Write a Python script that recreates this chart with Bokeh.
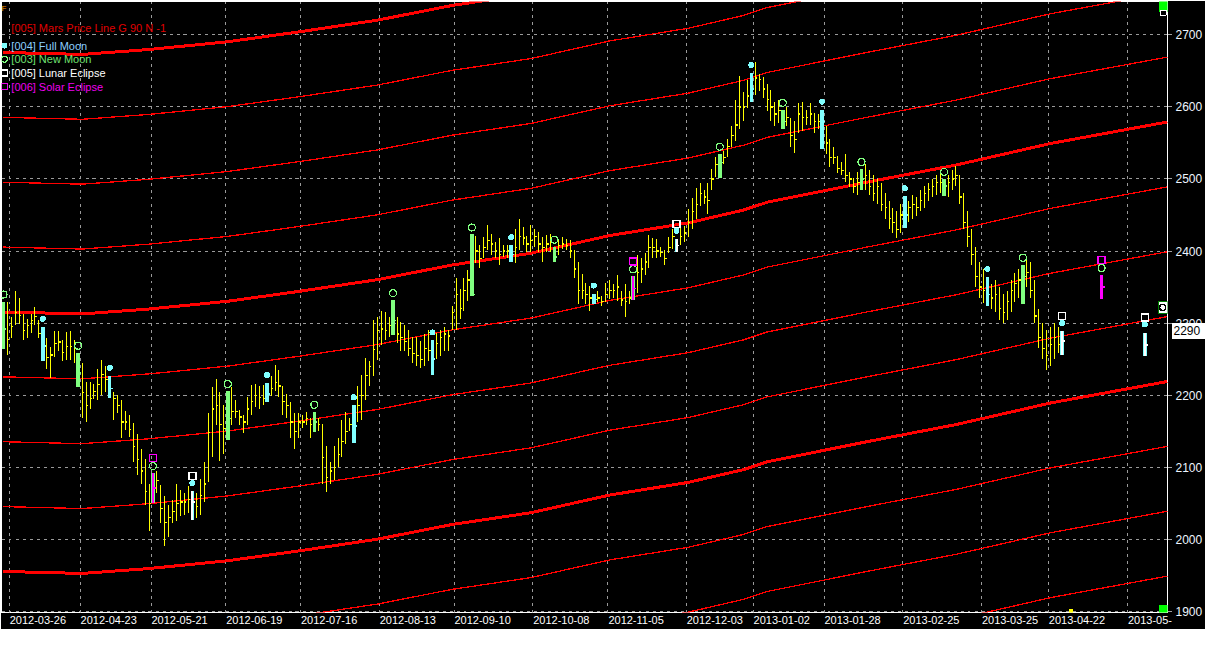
from bokeh.plotting import figure
from bokeh.models import Range1d, FixedTicker, Label, CustomJSTickFormatter, LinearAxis, InlineStyleSheet
from bokeh.embed import file_html
from bokeh.resources import INLINE

# ---------------- data ----------------
bar_idx = list(range(0, 270)) + [279, 290]
bar_high = [2330, 2329, 2309, 2344, 2335, 2313, 2306, 2312, 2323, 2305,
            2295, 2280, 2267, 2289, 2289, 2277, 2288, 2289, 2277, 2259,
            2245, 2219, 2219, 2215, 2236, 2249, 2240, 2227, 2204, 2200,
            2193, 2178, 2172, 2162, 2146, 2126, 2111, 2077, 2092, 2095,
            2075, 2060, 2048, 2055, 2077, 2068, 2064, 2074, 2067, 2064,
            2084, 2107, 2175, 2211, 2223, 2204, 2186, 2206, 2211, 2193,
            2179, 2173, 2197, 2214, 2215, 2213, 2214, 2217, 2227, 2242,
            2235, 2213, 2202, 2191, 2175, 2175, 2172, 2177, 2168, 2177,
            2168, 2160, 2129, 2107, 2129, 2141, 2166, 2177, 2168, 2186,
            2213, 2228, 2252, 2247, 2305, 2309, 2317, 2315, 2308, 2332,
            2308, 2301, 2297, 2290, 2281, 2281, 2275, 2285, 2290, 2276,
            2286, 2290, 2295, 2290, 2324, 2363, 2347, 2363, 2374, 2423,
            2421, 2409, 2419, 2436, 2424, 2412, 2418, 2408, 2408, 2408,
            2430, 2444, 2433, 2421, 2436, 2431, 2426, 2419, 2422, 2424,
            2406, 2417, 2419, 2417, 2415, 2401, 2385, 2368, 2356, 2351,
            2341, 2345, 2338, 2356, 2360, 2354, 2367, 2345, 2354, 2345,
            2365, 2395, 2390, 2397, 2422, 2418, 2417, 2406, 2401, 2419,
            2431, 2417, 2435, 2435, 2458, 2473, 2487, 2494, 2485, 2494,
            2514, 2530, 2535, 2539, 2555, 2573, 2609, 2643, 2621, 2637,
            2647, 2662, 2646, 2641, 2632, 2623, 2607, 2610, 2596, 2600,
            2585, 2580, 2606, 2607, 2596, 2605, 2591, 2590, 2596, 2573,
            2555, 2545, 2532, 2523, 2534, 2510, 2501, 2510, 2514, 2521,
            2512, 2505, 2500, 2495, 2480, 2470, 2460, 2455, 2465, 2476,
            2470, 2478, 2475, 2485, 2490, 2495, 2500, 2505, 2510, 2500,
            2505, 2512, 2518, 2505, 2480, 2455, 2430, 2405, 2385, 2375,
            2364, 2355, 2360, 2350, 2340, 2345, 2360, 2370, 2375, 2381,
            2390, 2385, 2360, 2320, 2300, 2290, 2295, 2300, 2295, 2289,
            2367, 2287]
bar_low = [2264, 2256, 2280, 2297, 2299, 2276, 2280, 2286, 2297, 2280,
           2247, 2237, 2224, 2253, 2261, 2247, 2249, 2249, 2245, 2211,
           2168, 2163, 2181, 2195, 2193, 2200, 2204, 2196, 2166, 2175,
           2141, 2152, 2142, 2107, 2089, 2077, 2048, 2012, 2050, 2064,
           2023, 1991, 2003, 2023, 2025, 2032, 2034, 2037, 2027, 2030,
           2034, 2052, 2080, 2114, 2159, 2109, 2118, 2138, 2159, 2168,
           2159, 2148, 2159, 2172, 2184, 2181, 2186, 2191, 2199, 2206,
           2197, 2172, 2168, 2141, 2126, 2141, 2154, 2159, 2141, 2149,
           2150, 2077, 2066, 2077, 2083, 2100, 2114, 2132, 2150, 2134,
           2163, 2166, 2193, 2213, 2227, 2249, 2270, 2277, 2281, 2283,
           2272, 2262, 2262, 2255, 2245, 2240, 2238, 2240, 2248, 2228,
           2250, 2255, 2262, 2262, 2290, 2290, 2306, 2317, 2331, 2338,
           2383, 2376, 2390, 2401, 2394, 2390, 2381, 2392, 2390, 2385,
           2383, 2401, 2408, 2399, 2399, 2406, 2399, 2385, 2399, 2399,
           2385, 2394, 2403, 2401, 2390, 2363, 2326, 2333, 2326, 2317,
           2326, 2329, 2324, 2329, 2333, 2335, 2331, 2324, 2309, 2326,
           2332, 2342, 2356, 2367, 2376, 2390, 2390, 2392, 2381, 2397,
           2403, 2399, 2408, 2412, 2419, 2431, 2444, 2462, 2465, 2451,
           2485, 2503, 2502, 2521, 2530, 2544, 2553, 2569, 2580, 2598,
           2607, 2616, 2622, 2612, 2594, 2580, 2573, 2578, 2569, 2573,
           2544, 2536, 2564, 2566, 2575, 2575, 2564, 2570, 2542, 2535,
           2517, 2521, 2508, 2505, 2496, 2489, 2480, 2478, 2485, 2485,
           2478, 2470, 2465, 2455, 2445, 2430, 2425, 2418, 2425, 2432,
           2440, 2445, 2448, 2455, 2460, 2470, 2475, 2478, 2480, 2476,
           2475, 2485, 2490, 2465, 2430, 2405, 2380, 2350, 2335, 2328,
           2324, 2320, 2315, 2305, 2300, 2305, 2315, 2330, 2335, 2326,
           2350, 2335, 2300, 2265, 2250, 2235, 2240, 2250, 2258, 2256,
           2333, 2254]
bar_close = [2292, 2277, 2295, 2315, 2311, 2290, 2297, 2304, 2309, 2286,
             2268, 2252, 2256, 2272, 2274, 2259, 2268, 2268, 2266, 2231,
             2204, 2186, 2195, 2205, 2215, 2229, 2222, 2209, 2195, 2186,
             2163, 2163, 2152, 2129, 2111, 2095, 2066, 2050, 2071, 2082,
             2043, 2023, 2030, 2039, 2050, 2052, 2052, 2055, 2052, 2046,
             2061, 2077, 2148, 2181, 2186, 2159, 2154, 2168, 2177, 2177,
             2170, 2163, 2181, 2191, 2200, 2197, 2195, 2202, 2209, 2218,
             2213, 2191, 2186, 2163, 2150, 2163, 2163, 2168, 2159, 2163,
             2159, 2114, 2086, 2095, 2100, 2118, 2136, 2150, 2159, 2157,
             2186, 2200, 2227, 2240, 2263, 2290, 2292, 2290, 2297, 2304,
             2285, 2280, 2275, 2265, 2258, 2255, 2250, 2265, 2262, 2250,
             2272, 2280, 2285, 2282, 2315, 2340, 2320, 2345, 2360, 2340,
             2400, 2390, 2405, 2415, 2410, 2400, 2395, 2400, 2400, 2395,
             2405, 2420, 2418, 2410, 2415, 2420, 2410, 2405, 2410, 2412,
             2392, 2408, 2410, 2408, 2400, 2375, 2345, 2345, 2340, 2335,
             2333, 2335, 2330, 2340, 2345, 2345, 2350, 2332, 2330, 2335,
             2348, 2370, 2375, 2385, 2405, 2405, 2400, 2398, 2390, 2405,
             2420, 2408, 2420, 2425, 2440, 2455, 2465, 2480, 2475, 2470,
             2500, 2520, 2523, 2530, 2545, 2560, 2575, 2600, 2600, 2615,
             2625, 2640, 2638, 2625, 2610, 2600, 2590, 2595, 2580, 2585,
             2560, 2555, 2590, 2585, 2585, 2590, 2580, 2580, 2580, 2550,
             2530, 2530, 2515, 2512, 2505, 2500, 2490, 2495, 2500, 2505,
             2490, 2480, 2490, 2465, 2460, 2445, 2440, 2430, 2450, 2450,
             2460, 2465, 2460, 2470, 2480, 2485, 2490, 2495, 2495, 2490,
             2495, 2500, 2505, 2475, 2440, 2420, 2395, 2365, 2350, 2345,
             2340, 2335, 2340, 2320, 2315, 2330, 2345, 2355, 2360, 2365,
             2370, 2345, 2310, 2280, 2265, 2255, 2270, 2280, 2270, 2275,
             2350, 2270]

full_moon_idx = [10, 27, 48, 67, 89, 109, 129, 150, 171, 190, 208, 229, 250, 269, 290]
new_moon_idx = [0, 19, 38, 57, 79, 99, 119, 140, 160, 182, 198, 218, 239, 259, 279]
lunar_eclipse_idx = [48, 171, 269, 290]
solar_eclipse_idx = [38, 160, 279]

date_tick_pos = [1.5, 19.5, 37.5, 56.5, 75.5, 95.5, 114.5, 134.5, 153.5, 173.5,
                 190.5, 208.5, 228.5, 248.5, 265.5, 285.5]
date_tick_labels = ["2012-03-26", "2012-04-23", "2012-05-21", "2012-06-19", "2012-07-16",
                    "2012-08-13", "2012-09-10", "2012-10-08", "2012-11-05", "2012-12-03",
                    "2013-01-02", "2013-01-28", "2013-02-25", "2013-03-25", "2013-04-22",
                    "2013-05-"]
price_ticks = [1900, 2000, 2100, 2200, 2300, 2400, 2500, 2600, 2700]

mars_idx = [0, 20, 37, 57, 75, 95, 114, 134, 154, 174, 188, 194, 220, 242, 266, 295.75]
mars_base = [2315.5, 2312.8, 2319.6, 2330.4, 2344.0, 2360.3, 2380.7, 2397.0, 2421.5,
             2439.1, 2456.8, 2467.7, 2496.2, 2519.3, 2549.2, 2579.1]
mars_step = 90
mars_harmonics = list(range(-7, 5))
last_price = 2290

# ---------------- geometry ----------------
X0, X1 = -0.5, 295.75
Y0, Y1 = 1898.6, 2746.2
FW, FH = 1166, 611
REF_W, REF_H = 1185.0, 624.0
PX = (X1 - X0) / FW
PY = (Y1 - Y0) / FH


def rx(px):
    return X0 + (px - 1) / REF_W * (X1 - X0)


def ry(py):
    return Y1 - (py - 1) / REF_H * (Y1 - Y0)


FONT = "Liberation Sans"

p = figure(frame_width=FW, frame_height=FH,
           x_range=Range1d(X0, X1), y_range=Range1d(Y0, Y1),
           x_axis_location="below", y_axis_location="right",
           output_backend="svg", toolbar_location=None,
           background_fill_color="black", border_fill_color="black",
           outline_line_color="white", outline_line_width=1.5,
           min_border_left=1, min_border_top=1, min_border_right=36, min_border_bottom=17)
# pixel-crisp (aliased) strokes like the original terminal chart; inherited into the canvas
p.stylesheets = [InlineStyleSheet(css=":host, :host * { shape-rendering: crispEdges; }")]

# x axis (labels left-aligned at grid lines)
shift = [len(s) * 2.85 * PX for s in date_tick_labels]
shifted = [t + s for t, s in zip(date_tick_pos, shift)]
xa = p.xaxis[0]
xa.ticker = FixedTicker(ticks=shifted)
xa.formatter = CustomJSTickFormatter(args=dict(tpos=shifted, tlab=date_tick_labels), code="""
let best = 0, bd = 1e9;
for (let k = 0; k < tpos.length; k++) { const d = Math.abs(tpos[k] - tick); if (d < bd) { bd = d; best = k; } }
return tlab[best];
""")
xa.axis_line_color = None
xa.major_tick_line_color = None
xa.minor_tick_line_color = None
xa.major_tick_out = 0
xa.major_tick_in = 0
xa.major_label_text_color = "white"
xa.major_label_text_font = FONT
xa.major_label_text_font_size = "11px"
xa.major_label_standoff = 3

ya = p.yaxis[0]
ya.ticker = FixedTicker(ticks=price_ticks)
ya.axis_line_color = None
ya.major_tick_line_color = "#a0a0a0"
ya.major_tick_out = 4
ya.major_tick_in = 0
ya.minor_tick_line_color = None
ya.major_label_text_color = "#eef6ff"
ya.major_label_text_font = FONT
ya.major_label_text_font_size = "12px"
ya.major_label_standoff = 4

# last-price box: a second right axis whose single tick is drawn back over the price axis
lp = LinearAxis(ticker=FixedTicker(ticks=[last_price]))
lp.axis_line_color = None
lp.minor_tick_line_color = None
lp.major_tick_line_color = "white"
lp.major_tick_line_width = 16
lp.major_tick_out = 0
lp.major_tick_in = 34
lp.major_label_standoff = -32
lp.major_label_text_color = "black"
lp.major_label_text_font = FONT
lp.major_label_text_font_size = "12px"
p.add_layout(lp, "right")

p.xgrid[0].ticker = FixedTicker(ticks=date_tick_pos)
for g in (p.xgrid[0], p.ygrid[0]):
    g.grid_line_color = "#9a9a9a"
    g.grid_line_dash = "3 4"
    g.grid_line_width = 1
p.ygrid[0].ticker = FixedTicker(ticks=price_ticks)

# Mars price lines
for k in mars_harmonics:
    p.line(mars_idx, [b + k * mars_step for b in mars_base], line_color="#ff0000",
           line_width=3 if k % 4 == 0 else 1.3)

# OHLC bars
p.segment(bar_idx, bar_low, bar_idx, bar_high, line_color="#ffff00", line_width=1)
p.segment(bar_idx, bar_close, [i + 0.5 for i in bar_idx], bar_close, line_color="#ffff00", line_width=1.3)

lookup = {i: (h, l, c) for i, h, l, c in zip(bar_idx, bar_high, bar_low, bar_close)}


def ev(idxs, k):
    return [lookup[i][k] for i in idxs]


for idxs, col, w in [(new_moon_idx, "#80ff80", 3.5), (full_moon_idx, "#80ffff", 3.5),
                     (lunar_eclipse_idx, "#ffffff", 2), (solar_eclipse_idx, "#ff00ff", 2.5)]:
    p.segment(idxs, ev(idxs, 1), idxs, ev(idxs, 0), line_color=col, line_width=w)
    p.segment(idxs, ev(idxs, 2), [i + 0.75 for i in idxs], ev(idxs, 2), line_color=col, line_width=1.5)

# event markers
p.scatter(full_moon_idx, [h + 8 * PY for h in ev(full_moon_idx, 0)], marker="circle", size=5,
          fill_color="#80ffff", line_color="#80ffff")
p.scatter(new_moon_idx, [h + 7 * PY for h in ev(new_moon_idx, 0)], marker="circle", size=7,
          fill_color=None, line_color="#80ff80", line_width=1.2)
p.scatter(lunar_eclipse_idx, [h + 15 * PY for h in ev(lunar_eclipse_idx, 0)], marker="square", size=7,
          fill_color=None, line_color="#ffffff", line_width=1.5)
p.scatter(solar_eclipse_idx, [h + 15 * PY for h in ev(solar_eclipse_idx, 0)], marker="square", size=7,
          fill_color=None, line_color="#ff00ff", line_width=1.5)

# legend
legend_items = [("[005] Mars Price Line G 90 N -1", "#e00000", 28),
                ("[004] Full Moon", "#8ccfff", 46),
                ("[003] New Moon", "#70e070", 60),
                ("[005] Lunar Eclipse", "#ffffff", 74),
                ("[006] Solar Eclipse", "#ee00ee", 88)]
for txt, col, yy in legend_items:
    p.add_layout(Label(x=rx(11), y=ry(yy), text=txt, text_color=col, text_font=FONT,
                       text_font_size="11px", text_baseline="middle", text_align="left"))
p.scatter([rx(4)], [ry(46)], marker="circle", size=5, fill_color="#80ffff", line_color="#80ffff")
p.scatter([rx(4)], [ry(60)], marker="circle", size=6, fill_color=None, line_color="#80ff80", line_width=1.2)
p.scatter([rx(4)], [ry(74)], marker="square", size=6, fill_color=None, line_color="#ffffff", line_width=1.4)
p.scatter([rx(4)], [ry(88)], marker="square", size=6, fill_color=None, line_color="#ee00ee", line_width=1.4)
p.add_layout(Label(x=rx(1), y=ry(8), text="F", text_color="#ff9900", text_font=FONT,
                   text_font_size="8px", text_baseline="middle", text_align="left"))

# corner widgets
p.rect([rx(1181.5)], [ry(6.5)], width=9, height=11, width_units="screen", height_units="screen",
       fill_color="#00ff00", line_color=None)
p.rect([rx(1181.5)], [ry(12.5)], width=6, height=5, width_units="screen", height_units="screen",
       fill_color="black", line_color="white", line_width=1)
p.rect([rx(1181.5)], [ry(621)], width=9, height=8, width_units="screen", height_units="screen",
       fill_color="#00ff00", line_color=None)
p.rect([rx(1181)], [ry(313.5)], width=9, height=12, width_units="screen", height_units="screen",
       fill_color="white", line_color="#008000", line_width=1)
p.scatter([rx(1181)], [ry(313.5)], marker="circle", size=6, fill_color=None, line_color="black", line_width=1.3)
p.rect([rx(1087.5)], [ry(624)], width=4, height=6, width_units="screen", height_units="screen",
       fill_color="#ffff00", line_color=None)

open("out.html", "w").write(file_html(p, INLINE))
